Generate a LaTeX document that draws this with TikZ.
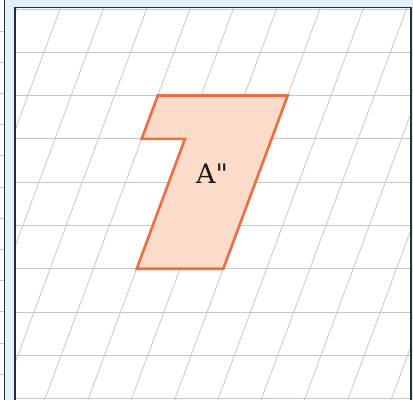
\documentclass[tikz,border=0pt]{standalone}
\usepackage{fontspec}
\newfontfamily\labelfont{DejaVu Serif}
\definecolor{bgblue}{HTML}{E1F2FB}
\definecolor{frame}{HTML}{2E2E2E}
\definecolor{gridgray}{HTML}{C8C8C8}
\definecolor{shapefill}{HTML}{FBDCCA}
\definecolor{shapeline}{HTML}{EF6D3F}
\tikzset{
  gridline/.style={draw=gridgray, line width=0.8bp},
  panelframe/.style={draw=frame, line width=1.2bp},
  figshape/.style={draw=shapeline, fill=shapefill, line width=2.6bp, line join=miter},
  figlabel/.style={font=\labelfont\fontsize{27}{27}\selectfont, text=black!90}
}
\begin{document}
\begin{tikzpicture}[x=1bp, y=-1bp]
  \useasboundingbox (0,0) rectangle (413,400);
  % background
  \fill[bgblue] (0,0) rectangle (413,400);
  % left panel
  \fill[white] (-1,0) rectangle (4.5,401);
  \begin{scope}
    \clip (0,0) rectangle (4.5,400);
    \foreach \k in {0,...,12} {
      \draw[gridline] (-1,{31+31.2*\k}) -- (5,{31+31.2*\k});
    }
  \end{scope}
  \draw[panelframe] (4.5,-1) -- (4.5,401);
  % main panel
  \fill[white] (15,7.5) rectangle (411,401);
  \begin{scope}
    \clip (15,7.5) rectangle (411,401);
    \foreach \v in {-3,...,6} {
      \draw[gridline] (10,{268.7-43.3*\v}) -- (420,{268.7-43.3*\v});
    }
    \foreach \u in {-9,...,12} {
      \draw[gridline] ({136.7+43.3*\u-16.1*4},{268.7+43.3*4}) -- ({136.7+43.3*\u+16.1*7},{268.7-43.3*7});
    }
  \end{scope}
  % shape A''
  \coordinate (p1) at (136.7,268.7);
  \coordinate (p2) at ({136.7+2*43.3},268.7);
  \coordinate (p3) at ({136.7+2*43.3+4*16.1},{268.7-4*43.3});
  \coordinate (p4) at ({136.7-43.3+4*16.1},{268.7-4*43.3});
  \coordinate (p5) at ({136.7-43.3+3*16.1},{268.7-3*43.3});
  \coordinate (p6) at ({136.7+3*16.1},{268.7-3*43.3});
  \draw[figshape] (p1) -- (p2) -- (p3) -- (p4) -- (p5) -- (p6) -- cycle;
  \node[figlabel] (lab) at (212,174) {A"};
  % frame
  \draw[panelframe] (15,401) -- (15,7.5) -- (411,7.5) -- (411,401);
\end{tikzpicture}
\end{document}
